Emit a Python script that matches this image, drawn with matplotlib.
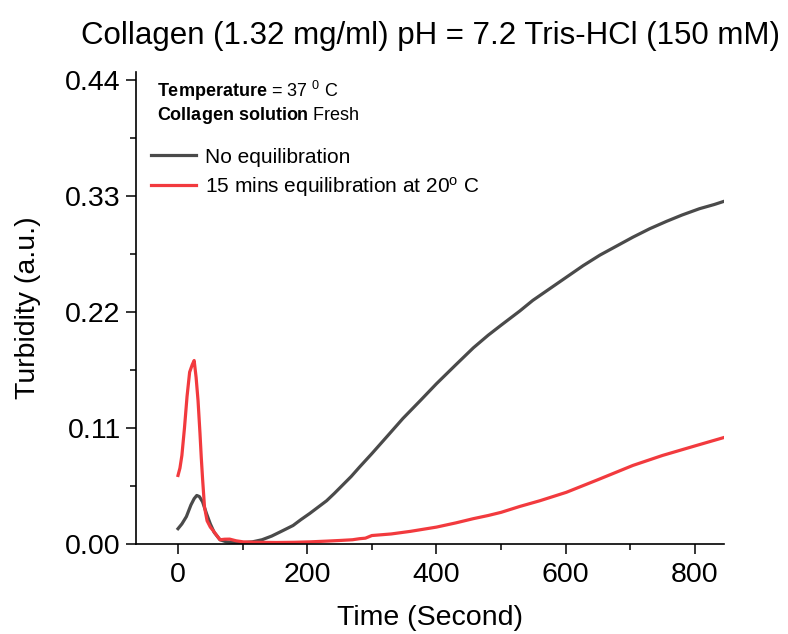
import matplotlib
matplotlib.use("Agg")
import matplotlib.pyplot as plt
from matplotlib.ticker import MultipleLocator, FormatStrFormatter

# ------------------------------------------------------------
# Turbidity curves
# ------------------------------------------------------------
time_no_eq = [0, 6, 13, 20, 25, 29, 33, 38, 44, 50, 56, 65, 75, 85, 100,
              115, 130, 145, 160, 178, 190, 204, 217, 230, 242, 255, 268,
              281, 300, 325, 348, 375, 400, 430, 457, 480, 500, 529, 549,
              575, 601, 627, 653, 680, 704, 730, 756, 780, 807, 830, 845]
turb_no_eq = [0.0145, 0.019, 0.026, 0.037, 0.043, 0.046, 0.045, 0.040,
              0.029, 0.019, 0.011, 0.004, 0.002, 0.0014, 0.0012, 0.002,
              0.004, 0.0075, 0.012, 0.0175, 0.023, 0.029, 0.035, 0.041,
              0.048, 0.056, 0.064, 0.073, 0.0857, 0.103, 0.119, 0.136,
              0.152, 0.170, 0.186, 0.198, 0.2075, 0.221, 0.231, 0.242,
              0.253, 0.264, 0.274, 0.283, 0.291, 0.299, 0.306, 0.312,
              0.318, 0.322, 0.325]

time_eq20 = [0, 3, 6, 10, 14, 18, 22, 25, 28, 31, 34, 36, 38, 41, 45, 50,
             54, 60, 65, 72, 80, 90, 101, 120, 152, 180, 204, 230, 250, 270,
             281, 290, 296, 300, 330, 360, 400, 430, 457, 480, 500, 529,
             560, 601, 650, 704, 750, 800, 845]
turb_eq20 = [0.065, 0.072, 0.084, 0.110, 0.140, 0.163, 0.170, 0.174, 0.158,
             0.136, 0.105, 0.082, 0.062, 0.035, 0.022, 0.016, 0.013, 0.008,
             0.004, 0.0045, 0.0046, 0.003, 0.002, 0.0016, 0.0014, 0.0016,
             0.002, 0.0027, 0.0033, 0.004, 0.005, 0.0055, 0.007, 0.008,
             0.0095, 0.012, 0.016, 0.020, 0.024, 0.027, 0.030, 0.0356,
             0.041, 0.049, 0.061, 0.0745, 0.084, 0.093, 0.101]

series_labels = ["No equilibration", "15 mins equilibration at 20$^{\\rm o}$ C"]
series_colors = ["#4a4a4a", "#f23a3e"]

plt.rcParams["font.family"] = ["Liberation Sans", "DejaVu Sans"]
plt.rcParams["mathtext.fontset"] = "custom"
plt.rcParams["mathtext.rm"] = "Liberation Sans"
plt.rcParams["mathtext.it"] = "Liberation Sans:italic"
plt.rcParams["mathtext.bf"] = "Liberation Sans:bold"

fig = plt.figure(figsize=(7.88, 6.34), dpi=100)
ax = fig.add_axes([0.1726, 0.142, 0.7462, 0.745])

ax.plot(time_no_eq, turb_no_eq, color=series_colors[0], lw=2.3,
        label=series_labels[0], solid_joinstyle="round")
ax.plot(time_eq20, turb_eq20, color=series_colors[1], lw=2.3,
        label=series_labels[1], solid_joinstyle="round")

ax.set_xlim(-65, 845)
ax.set_ylim(0, 0.448)
ax.xaxis.set_major_locator(MultipleLocator(200))
ax.xaxis.set_minor_locator(MultipleLocator(100))
ax.yaxis.set_major_locator(MultipleLocator(0.11))
ax.yaxis.set_minor_locator(MultipleLocator(0.055))
ax.yaxis.set_major_formatter(FormatStrFormatter("%.2f"))

for side in ["top", "right"]:
    ax.spines[side].set_visible(False)
for side in ["left", "bottom"]:
    ax.spines[side].set_linewidth(1.2)

ax.tick_params(which="major", direction="out", length=7, width=1.1,
               labelsize=20.5)
ax.tick_params(axis="x", which="major", pad=6)
ax.tick_params(axis="y", which="major", pad=4)
ax.tick_params(which="minor", direction="out", length=4, width=1.1)

ax.set_xlabel("Time (Second)", fontsize=20.5, labelpad=12)
ax.set_ylabel("Turbidity (a.u.)", fontsize=20.5, labelpad=17)
ax.set_title("Collagen (1.32 mg/ml) pH = 7.2 Tris-HCl (150 mM)",
             fontsize=22.5, pad=20)

ax.text(0.035, 0.985, "$\\bf{Temperature}$ = 37 $^{\\rm 0}$ C",
        transform=ax.transAxes, fontsize=13, va="top")
ax.text(0.035, 0.93, "$\\bf{Collagen\\ solution}$ Fresh",
        transform=ax.transAxes, fontsize=13, va="top")

ax.legend(loc="upper left", bbox_to_anchor=(0.0, 0.87), frameon=False,
          fontsize=15, handlelength=2.2, handletextpad=0.4,
          labelspacing=0.4, borderaxespad=0.3)

fig.savefig("out.png", dpi=100)
